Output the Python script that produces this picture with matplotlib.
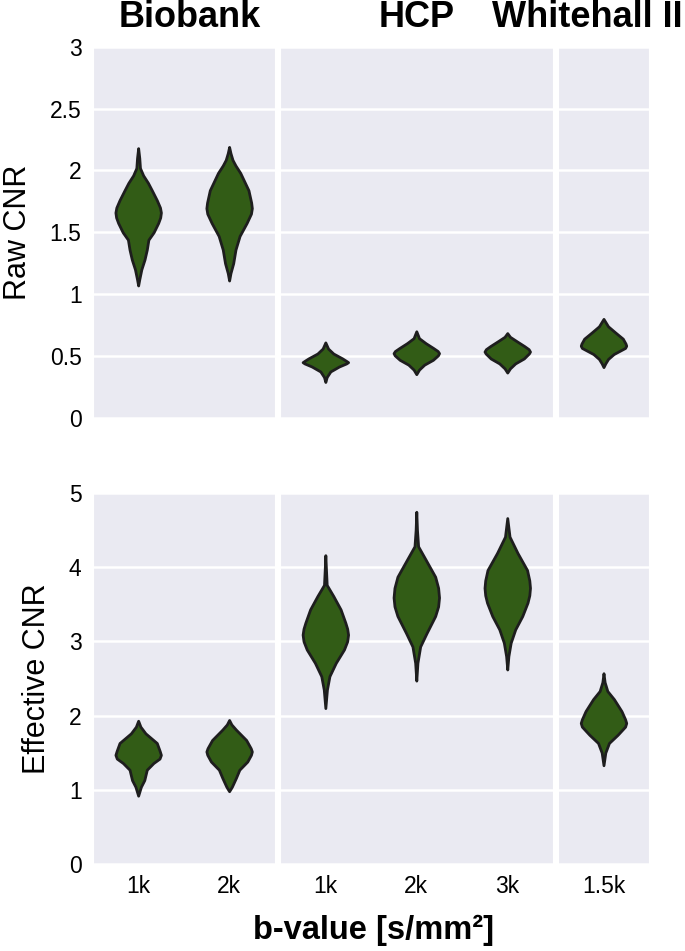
import matplotlib
matplotlib.use("Agg")
import matplotlib.pyplot as plt
import seaborn as sns

# study groups and their b-values
groups = ['Biobank', 'HCP', 'Whitehall II']
bvalue_labels = [['1k', '2k'], ['1k', '2k', '3k'], ['1.5k']]

# violin outlines: CNR value -> relative density
raw_cnr = [
    [[1.07, 1.12, 1.20, 1.28, 1.36, 1.44, 1.50, 1.575, 1.62, 1.66, 1.70, 1.76, 1.84, 1.90, 1.96, 2.02, 2.10, 2.18],
     [1.11, 1.17, 1.25, 1.36, 1.47, 1.575, 1.65, 1.695, 1.74, 1.84, 1.98, 2.04, 2.085, 2.14, 2.19]],
    [[0.29, 0.33, 0.375, 0.415, 0.44, 0.45, 0.46, 0.48, 0.52, 0.56, 0.61],
     [0.353, 0.39, 0.43, 0.469, 0.505, 0.523, 0.54, 0.564, 0.604, 0.644, 0.70],
     [0.366, 0.40, 0.44, 0.48, 0.52, 0.536, 0.555, 0.58, 0.62, 0.655, 0.685]],
    [[0.41, 0.44, 0.476, 0.516, 0.565, 0.583, 0.60, 0.64, 0.69, 0.74, 0.80]],
]
raw_density = [
    [[0.00, 0.05, 0.14, 0.28, 0.38, 0.45, 0.68, 0.88, 0.97, 1.00, 0.96, 0.82, 0.60, 0.43, 0.22, 0.08, 0.05, 0.00],
     [0.00, 0.06, 0.18, 0.28, 0.46, 0.77, 0.96, 1.00, 0.97, 0.85, 0.49, 0.28, 0.15, 0.06, 0.00]],
    [[0.00, 0.06, 0.22, 0.60, 0.92, 1.00, 0.92, 0.75, 0.35, 0.12, 0.00],
     [0.00, 0.12, 0.35, 0.73, 0.95, 1.00, 0.94, 0.75, 0.41, 0.12, 0.00],
     [0.00, 0.12, 0.35, 0.73, 0.95, 1.00, 0.94, 0.75, 0.41, 0.12, 0.00]],
    [[0.00, 0.08, 0.20, 0.45, 0.95, 1.00, 0.97, 0.85, 0.52, 0.20, 0.00]],
]

eff_cnr = [
    [[0.92, 1.04, 1.13, 1.27, 1.36, 1.42, 1.47, 1.52, 1.63, 1.76, 1.85, 1.93],
     [0.98, 1.04, 1.16, 1.27, 1.38, 1.47, 1.516, 1.56, 1.67, 1.81, 1.88, 1.94]],
    [[2.10, 2.35, 2.53, 2.71, 2.89, 3.00, 3.09, 3.17, 3.25, 3.43, 3.61, 3.76, 3.95, 4.16],
     [2.47, 2.71, 2.93, 3.11, 3.34, 3.47, 3.59, 3.72, 3.87, 4.10, 4.28, 4.50, 4.745],
     [2.62, 2.80, 2.98, 3.16, 3.34, 3.52, 3.62, 3.72, 3.82, 3.96, 4.19, 4.41, 4.66]],
    [[1.33, 1.50, 1.63, 1.74, 1.85, 1.90, 1.95, 2.06, 2.22, 2.33, 2.45, 2.57]],
]
eff_density = [
    [[0.00, 0.12, 0.27, 0.38, 0.67, 0.94, 1.00, 0.95, 0.82, 0.32, 0.10, 0.00],
     [0.00, 0.12, 0.30, 0.45, 0.80, 0.96, 1.00, 0.95, 0.75, 0.30, 0.10, 0.00]],
    [[0.00, 0.07, 0.18, 0.46, 0.82, 0.96, 1.00, 0.96, 0.88, 0.67, 0.35, 0.06, 0.03, 0.00],
     [0.00, 0.05, 0.17, 0.45, 0.83, 0.96, 1.00, 0.96, 0.83, 0.41, 0.08, 0.03, 0.00],
     [0.00, 0.05, 0.15, 0.35, 0.66, 0.89, 0.97, 1.00, 0.97, 0.87, 0.45, 0.10, 0.00]],
    [[0.00, 0.08, 0.24, 0.62, 0.95, 1.00, 0.95, 0.79, 0.46, 0.17, 0.05, 0.00]],
]

row_labels = ['Raw CNR', 'Effective CNR']
row_limits = [(0, 3), (0, 5)]
row_ticks = [[0, 0.5, 1, 1.5, 2, 2.5, 3], [0, 1, 2, 3, 4, 5]]
row_ticklabels = [['0', '0.5', '1', '1.5', '2', '2.5', '3'], ['0', '1', '2', '3', '4', '5']]

sns.set_style('darkgrid')
plt.rcParams['font.family'] = ['Liberation Sans', 'DejaVu Sans']
plt.rcParams['grid.linewidth'] = 1.8
plt.rcParams['text.color'] = 'black'
plt.rcParams['axes.labelcolor'] = 'black'
plt.rcParams['xtick.color'] = 'black'
plt.rcParams['ytick.color'] = 'black'

fill = '#325c16'
edge = '#1e1e1e'

fig = plt.figure(figsize=(6.85, 9.51), dpi=100)
gs = fig.add_gridspec(2, 3, width_ratios=[2, 3, 1], left=0.1353, right=0.9474,
                      top=0.9509, bottom=0.0915, wspace=0.029, hspace=0.202)

# group titles sit on one line above the top row
title_x = [0.277, 0.608, 0.997]
title_ha = ['center', 'center', 'right']
for grp, tx, ha in zip(groups, title_x, title_ha):
    fig.text(tx, 0.982, grp, ha=ha, va='center', fontsize=26, fontweight='bold')

rows = [(raw_cnr, raw_density), (eff_cnr, eff_density)]
for r, (cnr, dens) in enumerate(rows):
    for c, grp in enumerate(groups):
        ax = fig.add_subplot(gs[r, c])
        stats = []
        for v, d in zip(cnr[c], dens[c]):
            stats.append({'coords': v, 'vals': d, 'mean': v[len(v) // 2],
                          'median': v[len(v) // 2], 'min': v[0], 'max': v[-1],
                          'quantiles': []})
        positions = list(range(len(stats)))
        parts = ax.violin(stats, positions=positions, widths=0.5,
                          showmeans=False, showextrema=False, showmedians=False)
        for body in parts['bodies']:
            body.set_facecolor(fill)
            body.set_edgecolor(edge)
            body.set_alpha(1)
            body.set_linewidth(2)
            body.set_joinstyle('round')
        ax.set_xlim(-0.5, len(stats) - 0.5)
        ax.set_ylim(*row_limits[r])
        ax.set_yticks(row_ticks[r])
        ax.grid(axis='x', visible=False)
        ax.set_xticks(positions)
        ax.tick_params(axis='both', length=0, labelsize=16.5, pad=8)
        if r == 1:
            ax.set_xticklabels(bvalue_labels[c])
        else:
            ax.set_xticklabels([])
        if c == 0:
            ax.set_yticklabels(row_ticklabels[r])
            ax.set_ylabel(row_labels[r], fontsize=22, labelpad=12)
        else:
            ax.set_yticklabels([])

fig.text(0.545, 0.022, 'b-value [s/mm\u00b2]', ha='center', va='center',
         fontsize=23.5, fontweight='bold')

fig.savefig('out.png', dpi=100)
